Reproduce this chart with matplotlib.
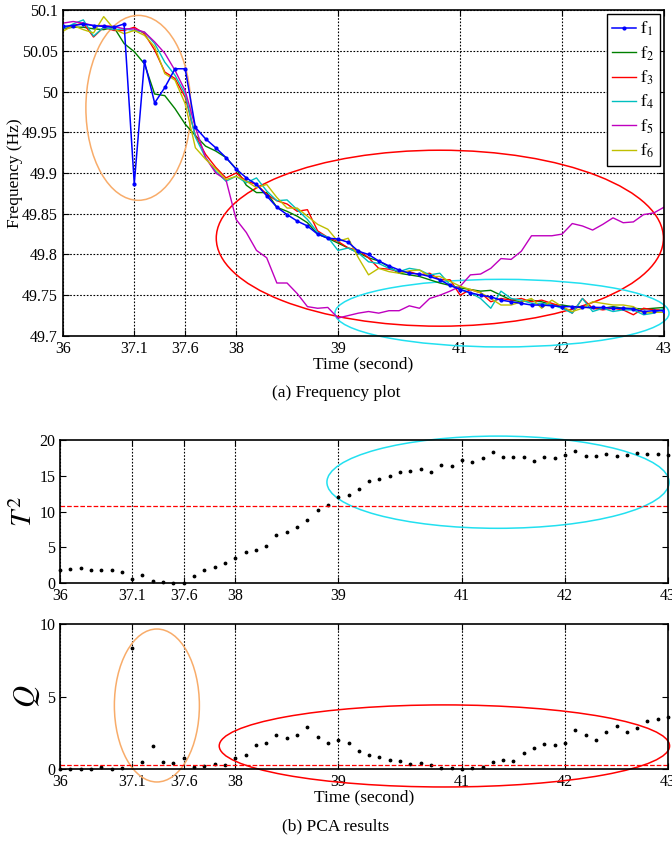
import numpy as np
import matplotlib
matplotlib.use("Agg")
import matplotlib.pyplot as plt
from matplotlib.patches import Ellipse

plt.rcParams['font.family'] = ['Liberation Serif', 'DejaVu Serif']
plt.rcParams['mathtext.fontset'] = 'stix'

# sample index axis, labelled with the time marks used in the paper
tick_idx = [0, 7, 12, 17, 27, 39, 49, 59]
tick_lab = ['36', '37.1', '37.6', '38', '39', '41', '42', '43']

f1 = [50.080, 50.081, 50.083, 50.081, 50.080, 50.079, 50.083, 49.887, 50.037, 49.986,
      50.005, 50.028, 50.028, 49.956, 49.942, 49.931, 49.919, 49.905, 49.894, 49.886,
      49.872, 49.858, 49.849, 49.841, 49.835, 49.825, 49.820, 49.819, 49.815, 49.804,
      49.800, 49.792, 49.786, 49.781, 49.777, 49.776, 49.773, 49.769, 49.762, 49.757,
      49.753, 49.750, 49.748, 49.744, 49.742, 49.740, 49.738, 49.738, 49.737, 49.736,
      49.736, 49.735, 49.735, 49.735, 49.734, 49.734, 49.733, 49.730, 49.731, 49.731]
f2 = [50.077, 50.079, 50.079, 50.077, 50.076, 50.079, 50.059, 50.049, 50.034, 49.997,
      49.995, 49.979, 49.960, 49.946, 49.933, 49.927, 49.919, 49.905, 49.885, 49.876,
      49.876, 49.858, 49.853, 49.847, 49.839, 49.825, 49.820, 49.814, 49.808, 49.802,
      49.796, 49.792, 49.785, 49.777, 49.775, 49.773, 49.769, 49.765, 49.762, 49.759,
      49.757, 49.755, 49.756, 49.750, 49.744, 49.742, 49.744, 49.742, 49.738, 49.738,
      49.736, 49.736, 49.734, 49.734, 49.736, 49.734, 49.734, 49.733, 49.734, 49.735]
f3 = [50.077, 50.081, 50.084, 50.067, 50.079, 50.075, 50.075, 50.079, 50.071, 50.051,
      50.024, 50.016, 49.993, 49.946, 49.923, 49.907, 49.894, 49.900, 49.890, 49.886,
      49.874, 49.866, 49.862, 49.853, 49.855, 49.829, 49.821, 49.816, 49.808, 49.805,
      49.796, 49.783, 49.782, 49.779, 49.779, 49.775, 49.777, 49.769, 49.769, 49.750,
      49.757, 49.753, 49.742, 49.746, 49.744, 49.746, 49.742, 49.744, 49.740, 49.736,
      49.728, 49.746, 49.734, 49.732, 49.734, 49.732, 49.726, 49.734, 49.732, 49.732]
f4 = [50.077, 50.083, 50.088, 50.068, 50.079, 50.076, 50.077, 50.075, 50.073, 50.059,
      50.036, 50.020, 49.997, 49.944, 49.919, 49.902, 49.890, 49.896, 49.888, 49.894,
      49.878, 49.866, 49.867, 49.855, 49.843, 49.827, 49.821, 49.805, 49.808, 49.802,
      49.791, 49.789, 49.783, 49.779, 49.783, 49.781, 49.775, 49.777, 49.763, 49.757,
      49.753, 49.746, 49.734, 49.755, 49.746, 49.744, 49.740, 49.740, 49.738, 49.734,
      49.728, 49.746, 49.730, 49.734, 49.730, 49.732, 49.732, 49.726, 49.728, 49.734]
f5 = [50.084, 50.086, 50.084, 50.081, 50.081, 50.080, 50.077, 50.077, 50.073, 50.061,
      50.047, 50.026, 50.001, 49.956, 49.919, 49.900, 49.892, 49.843, 49.827, 49.805,
      49.796, 49.765, 49.765, 49.752, 49.736, 49.734, 49.735, 49.722, 49.725, 49.728,
      49.730, 49.728, 49.731, 49.731, 49.737, 49.734, 49.746, 49.750, 49.755, 49.761,
      49.775, 49.776, 49.783, 49.795, 49.794, 49.804, 49.823, 49.823, 49.823, 49.825,
      49.838, 49.835, 49.830, 49.837, 49.845, 49.839, 49.840, 49.849, 49.851, 49.858]
f6 = [50.074, 50.081, 50.076, 50.072, 50.092, 50.077, 50.071, 50.075, 50.069, 50.055,
      50.022, 50.014, 49.985, 49.931, 49.917, 49.905, 49.892, 49.896, 49.890, 49.882,
      49.886, 49.870, 49.857, 49.857, 49.847, 49.837, 49.831, 49.816, 49.820, 49.796,
      49.775, 49.783, 49.779, 49.777, 49.780, 49.781, 49.773, 49.773, 49.767, 49.761,
      49.757, 49.753, 49.746, 49.738, 49.738, 49.742, 49.746, 49.734, 49.744, 49.736,
      49.730, 49.734, 49.742, 49.740, 49.738, 49.738, 49.736, 49.728, 49.729, 49.729]

T2 = [1.8, 2.0, 2.1, 1.8, 1.8, 1.8, 1.5, 0.5, 1.1, 0.3,
      0.1, 0.0, 0.0, 1.0, 1.8, 2.3, 2.8, 3.5, 4.3, 4.6,
      5.2, 6.7, 7.1, 7.9, 8.8, 10.2, 10.9, 12.0, 12.3, 13.2,
      14.3, 14.6, 14.9, 15.5, 15.6, 15.9, 15.5, 16.5, 16.3, 17.2,
      16.9, 17.5, 18.3, 17.6, 17.6, 17.6, 17.1, 17.6, 17.5, 17.9,
      18.4, 17.8, 17.8, 18.0, 17.8, 17.9, 18.2, 18.0, 18.0, 17.9]
Q = [0.0, 0.0, 0.0, 0.0, 0.11, 0.0, 0.09, 8.32, 0.48, 1.59,
     0.48, 0.44, 0.76, 0.11, 0.23, 0.32, 0.28, 0.78, 0.99, 1.66,
     1.77, 2.37, 2.14, 2.37, 2.87, 2.23, 1.79, 2.02, 1.79, 1.24,
     0.94, 0.83, 0.60, 0.53, 0.37, 0.39, 0.25, 0.05, 0.05, 0.0,
     0.07, 0.16, 0.48, 0.60, 0.55, 1.08, 1.43, 1.72, 1.63, 1.82,
     2.71, 2.32, 2.02, 2.53, 2.94, 2.53, 2.83, 3.31, 3.45, 3.6]
T2_limit = 10.8
Q_limit = 0.3

series = [f1, f2, f3, f4, f5, f6]
names = [r'$\mathrm{f}_%d$' % (k + 1) for k in range(6)]
colors = ['#0000ff', '#008000', '#ff0000', '#00bfbf', '#bf00bf', '#bfbf00']

fig = plt.figure(figsize=(6.72, 8.42), dpi=100)


def style(ax, ylim, yticks, both_grid):
    ax.set_xlim(0, 59)
    ax.set_ylim(*ylim)
    ax.set_yticks(yticks)
    ax.set_xticks(tick_idx)
    ax.set_xticklabels(tick_lab)
    ax.tick_params(direction='in', top=True, right=True, labelsize=11.5, length=4)
    for s in ax.spines.values():
        s.set_linewidth(1.2)
    ax.grid(True, axis='both' if both_grid else 'x', linestyle=(0, (1.5, 1.5)),
            color='black', linewidth=0.8)
    ax.set_axisbelow(True)


# (a) frequency
ax1 = fig.add_axes([0.0937, 0.601, 0.8943, 0.387])
for k, f in enumerate(series):
    x = np.arange(len(f))
    if k == 0:
        ax1.plot(x, f, color=colors[k], lw=1.1, marker='.', ms=4, label=names[k], zorder=5)
    else:
        ax1.plot(x, f, color=colors[k], lw=1.0, label=names[k])
style(ax1, (49.7, 50.1), [49.7, 49.75, 49.8, 49.85, 49.9, 49.95, 50, 50.05, 50.1], True)
ax1.set_yticklabels(['49.7', '49.75', '49.8', '49.85', '49.9', '49.95', '50', '50.05', '50.1'])
ax1.set_ylabel('Frequency (Hz)', fontsize=12.5)
ax1.yaxis.set_label_coords(-0.066, 0.5)
ax1.set_xlabel('Time (second)', fontsize=12.5, labelpad=0)
leg = ax1.legend(loc='upper right', fontsize=12.5, numpoints=1, fancybox=False,
                 edgecolor='black', framealpha=1, handlelength=1.4, labelspacing=0.35,
                 borderaxespad=0.25, borderpad=0.3, handletextpad=0.25)
leg.get_frame().set_linewidth(1.0)
ax1.add_patch(Ellipse((7.4, 49.980), 10.3, 0.227, fill=False, ec='#f8ac6a', lw=1.1, clip_on=False))
ax1.add_patch(Ellipse((37.0, 49.820), 43.9, 0.216, fill=False, ec='red', lw=1.1, clip_on=False))
ax1.add_patch(Ellipse((43.1, 49.728), 32.8, 0.083, fill=False, ec='#22e0f0', lw=1.1, clip_on=False))
fig.text(0.5, 0.533, '(a) Frequency plot', ha='center', va='center', fontsize=12.5)

# (b) PCA results
ax2 = fig.add_axes([0.0893, 0.3076, 0.9048, 0.1698])
ax2.plot(np.arange(len(T2)), T2, 'k.', ms=3.5, clip_on=False)
ax2.axhline(T2_limit, color='red', ls='--', lw=0.9)
style(ax2, (0, 20), [0, 5, 10, 15, 20], False)
ax2.set_ylabel(r'$T^2$', fontsize=21)
ax2.yaxis.set_label_coords(-0.037, 0.5)
ax2.add_patch(Ellipse((42.5, 14.1), 33.2, 12.9, fill=False, ec='#22e0f0', lw=1.1, clip_on=False))

ax3 = fig.add_axes([0.0893, 0.0867, 0.9048, 0.1722])
ax3.plot(np.arange(len(Q)), Q, 'k.', ms=3.5, clip_on=False)
ax3.axhline(Q_limit, color='red', ls='--', lw=0.9)
style(ax3, (0, 10), [0, 5, 10], False)
ax3.set_ylabel(r'$Q$', fontsize=22)
ax3.yaxis.set_label_coords(-0.03, 0.5)
ax3.set_xlabel('Time (second)', fontsize=12.5, labelpad=0)
ax3.add_patch(Ellipse((9.4, 4.38), 8.25, 10.55, fill=False, ec='#f8ac6a', lw=1.1, clip_on=False))
ax3.add_patch(Ellipse((37.3, 1.59), 43.7, 5.66, fill=False, ec='red', lw=1.1, clip_on=False))
fig.text(0.5, 0.019, '(b) PCA results', ha='center', va='center', fontsize=12.5)

fig.savefig('out.png', dpi=100)
